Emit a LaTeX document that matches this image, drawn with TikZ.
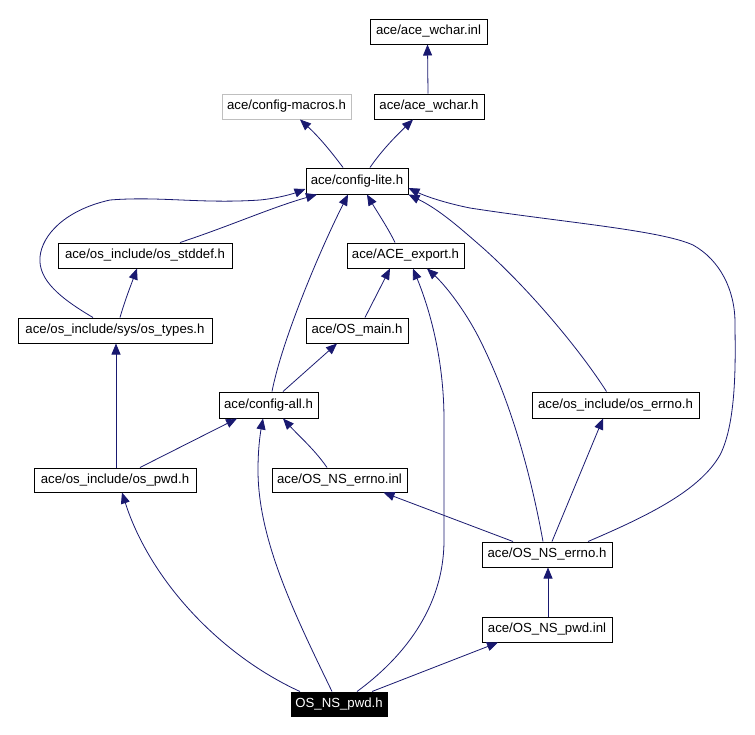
\documentclass[tikz,border=0pt]{standalone}
\usepackage{fontspec}
\setmainfont{Liberation Sans}
\usetikzlibrary{arrows.meta}
\definecolor{edgeblue}{RGB}{25,25,112}
\definecolor{graybox}{RGB}{191,191,191}
\begin{document}
\begin{tikzpicture}[x=1pt,y=-1pt,
  filebox/.style={draw=black,line width=1pt,fill=white,inner sep=1pt,minimum height=25pt,
    font=\fontsize{13.2}{15}\selectfont,text=black,anchor=center},
  graynode/.style={filebox,draw=graybox},
  mainnode/.style={filebox,fill=black,text=white},
  edge/.style={draw=edgeblue,line width=0.8pt,-{Triangle[length=11pt,width=9pt]}}]
\useasboundingbox[fill=white] (0,0) rectangle (755,734);
% nodes
\node[filebox,minimum width=117pt] (wcharinl) at (428.5,31.5) {ace/ace\_wchar.inl};
\node[filebox,minimum width=110pt] (wcharh) at (429,106.5) {ace/ace\_wchar.h};
\node[graynode,minimum width=129pt] (macros) at (286.5,106.5) {ace/config-macros.h};
\node[filebox,minimum width=102pt,minimum height=26pt] (lite) at (357,181) {ace/config-lite.h};
\node[filebox,minimum width=174pt] (stddef) at (145,255.5) {ace/os\_include/os\_stddef.h};
\node[filebox,minimum width=117pt] (export) at (405.5,255.5) {ace/ACE\_export.h};
\node[filebox,minimum width=194pt] (types) at (115,330.5) {ace/os\_include/sys/os\_types.h};
\node[filebox,minimum width=102pt] (osmain) at (357,330.5) {ace/OS\_main.h};
\node[filebox,minimum width=99pt,minimum height=26pt] (cfgall) at (268.5,405) {ace/config-all.h};
\node[filebox,minimum width=167pt,minimum height=26pt] (oserrno) at (615.5,405) {ace/os\_include/os\_errno.h};
\node[filebox,minimum width=162pt,minimum height=24pt] (ospwd) at (115,480) {ace/os\_include/os\_pwd.h};
\node[filebox,minimum width=135pt,minimum height=24pt] (nserrinl) at (339.5,480) {ace/OS\_NS\_errno.inl};
\node[filebox,minimum width=130pt] (nserrh) at (547,554.5) {ace/OS\_NS\_errno.h};
\node[filebox,minimum width=130pt] (nspwdinl) at (547,629.5) {ace/OS\_NS\_pwd.inl};
\node[mainnode,minimum width=96pt,minimum height=24pt] (nspwdh) at (339,704) {OS\_NS\_pwd.h};
% edges
\draw[edge] ([xshift=-1pt]wcharh.north) -- ([xshift=-1pt]wcharinl.south);
\draw[edge] ([xshift=-14pt]lite.north) .. controls (330,150) and (318,136) .. ([xshift=13.5pt]macros.south);
\draw[edge] ([xshift=13pt]lite.north) .. controls (382,150) and (396,136) .. ([xshift=-16pt]wcharh.south);
\draw[edge] ([xshift=35pt]stddef.north) .. controls (230,226) and (270,208) .. ([xshift=-40pt]lite.south);
\draw[edge] ([xshift=-22pt]types.north) .. controls (60,298) and (38,280) .. (40,257)
  .. controls (42,235) and (65,210) .. (110,200)
  .. controls (160,196) and (200,204) .. (260,200)
  .. controls (280,198) and (295,193) .. ([yshift=-8pt]lite.west);
\draw[edge] ([xshift=5pt]types.north) .. controls (125,300) and (131,285) .. ([xshift=-8pt]stddef.south);
\draw[edge] ([xshift=3.5pt]cfgall.north) .. controls (282,340) and (320,250) .. ([xshift=-9pt]lite.south);
\draw[edge] ([xshift=-10.5pt]export.north) .. controls (388,228) and (376,210) .. ([xshift=10pt]lite.south);
\draw[edge] ([xshift=-9pt]oserrno.north) .. controls (580,350) and (530,290) .. (483,248)
  .. controls (460,228) and (440,210) .. (lite.south east);
\draw[edge] ([xshift=41pt]nserrh.north) .. controls (650,515) and (700,490) .. (720,455)
  .. controls (738,420) and (735,350) .. (735,323)
  .. controls (735,290) and (720,260) .. (693,245)
  .. controls (660,230) and (560,222) .. (470,208)
  .. controls (445,203) and (425,196) .. ([yshift=-7pt]lite.east);
\draw[edge] ([xshift=8pt]osmain.north) -- ([xshift=-15.5pt]export.south);
\draw[edge] ([xshift=14.5pt]cfgall.north) -- ([xshift=-20pt]osmain.south);
\draw[edge] ([xshift=18pt]nspwdh.north) .. controls (400,660) and (444,610) .. (444,540)
  -- (444,420) .. controls (444,360) and (430,310) .. ([xshift=7.5pt]export.south);
\draw[edge] ([xshift=-4pt]nserrh.north) .. controls (530,470) and (510,400) .. (480,340)
  .. controls (465,310) and (445,285) .. ([xshift=21.5pt]export.south);
\draw[edge] ([xshift=1pt]ospwd.north) -- ([xshift=1pt]types.south);
\draw[edge] ([xshift=25pt]ospwd.north) -- ([xshift=-31.5pt]cfgall.south);
\draw[edge] ([xshift=-12.5pt]nserrinl.north) .. controls (315,450) and (298,435) .. ([xshift=14.5pt]cfgall.south);
\draw[edge] ([xshift=-7pt]nspwdh.north) .. controls (295,615) and (258,540) .. (258,470)
  .. controls (258,450) and (260,435) .. ([xshift=-5.5pt]cfgall.south);
\draw[edge] ([xshift=5pt]nserrh.north) -- ([xshift=-12.5pt]oserrno.south);
\draw[edge] ([xshift=-34pt]nserrh.north) -- ([xshift=44pt]nserrinl.south);
\draw[edge] ([xshift=1pt]nspwdinl.north) -- ([xshift=1pt]nserrh.south);
\draw[edge] ([xshift=33pt]nspwdh.north) -- ([xshift=-49pt]nspwdinl.south);
\draw[edge] ([xshift=-39pt]nspwdh.north) .. controls (220,655) and (150,580) .. ([xshift=7pt]ospwd.south);
\end{tikzpicture}
\end{document}
